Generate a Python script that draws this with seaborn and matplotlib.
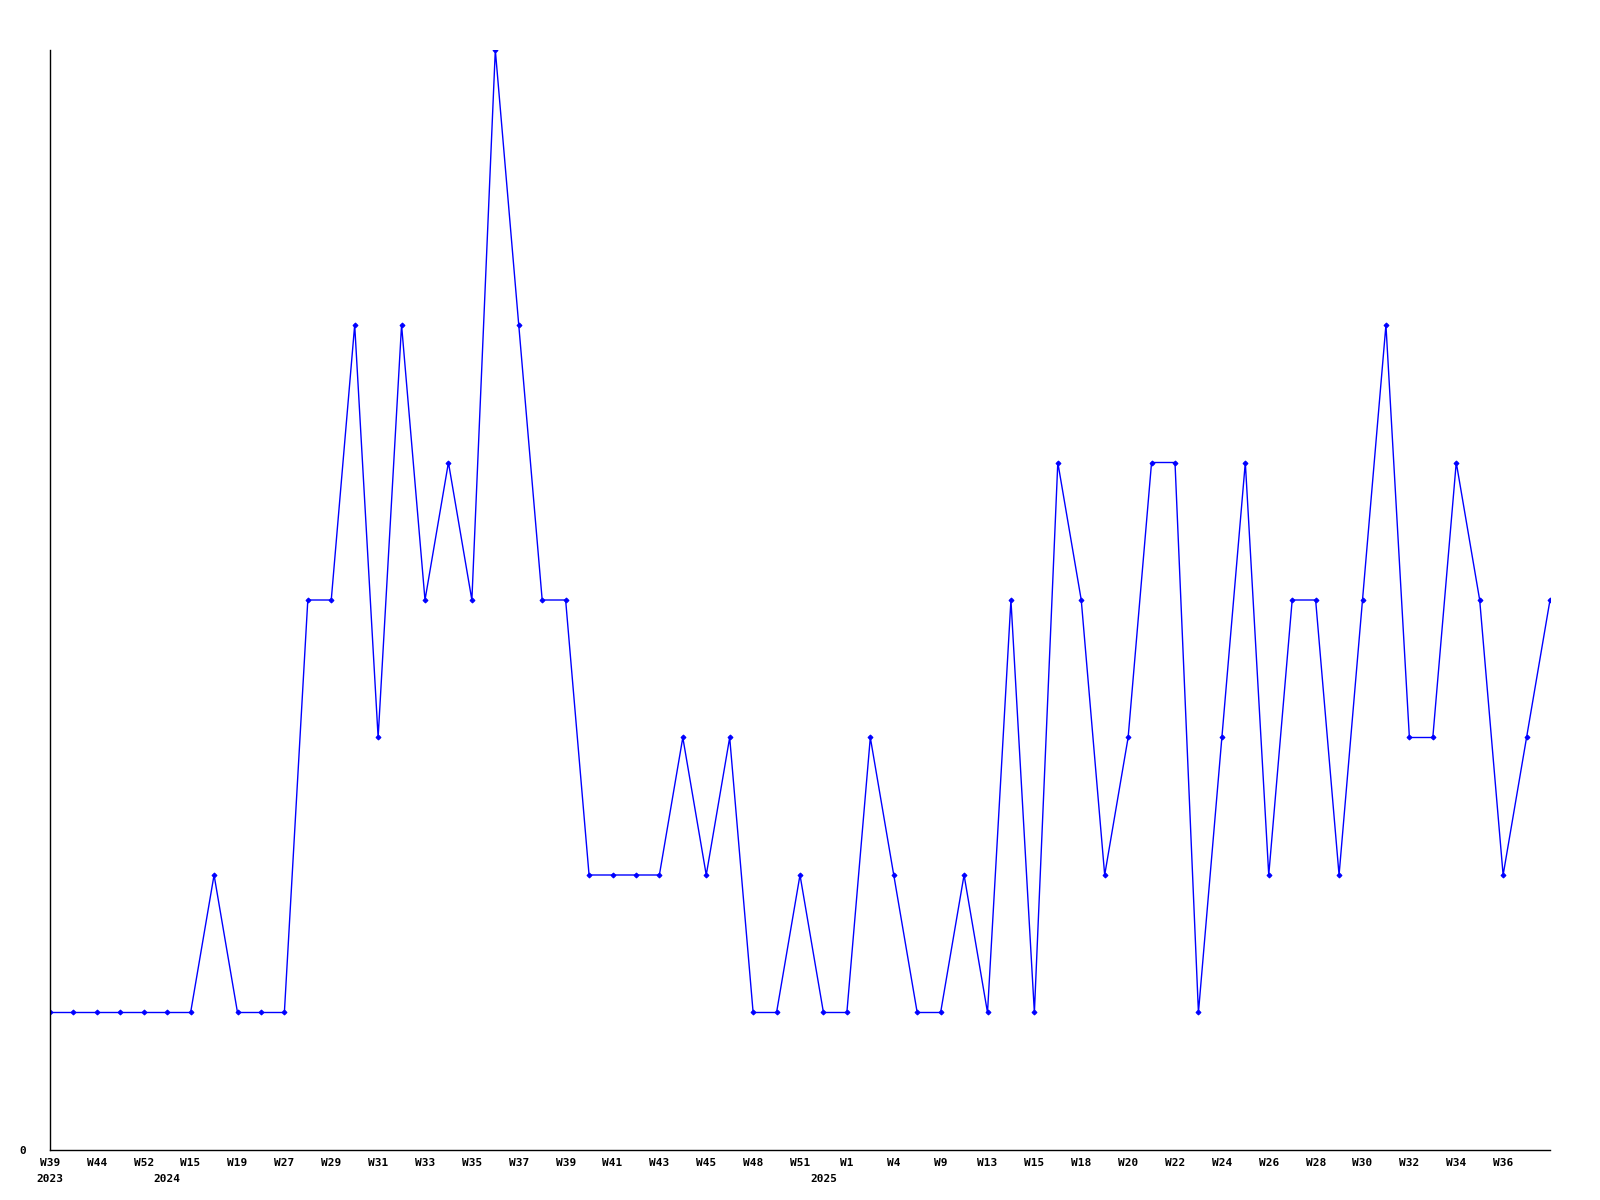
import pandas as pd
import matplotlib.pyplot as plt
import seaborn as sns

# Weekly counts, one point per observed week
values = [1, 1, 1, 1, 1, 1, 1, 2, 1, 1, 1, 4, 4, 6, 3, 6, 4, 5, 4, 8,
          6, 4, 4, 2, 2, 2, 2, 3, 2, 3, 1, 1, 2, 1, 1, 3, 2, 1, 1, 2,
          1, 4, 1, 5, 4, 2, 3, 5, 5, 1, 3, 5, 2, 4, 4, 2, 4, 6, 3, 3,
          5, 4, 2, 3, 4]

# Week labels shown on every second point
week_labels = ["W39", "W44", "W52", "W15", "W19", "W27", "W29", "W31",
               "W33", "W35", "W37", "W39", "W41", "W43", "W45", "W48",
               "W51", "W1", "W4", "W9", "W13", "W15", "W18", "W20",
               "W22", "W24", "W26", "W28", "W30", "W32", "W34", "W36"]

# Year labels and the point where each year starts
years = ["2023", "2024", "2025"]
year_pos = [0, 5, 33]

df = pd.DataFrame({"idx": range(len(values)), "count": values})

sns.set_style("white")
plt.rcParams["font.family"] = ["DejaVu Sans Mono"]

fig = plt.figure(figsize=(16, 12), dpi=100)
ax = fig.add_axes([0.03125, 0.04167, 0.9375, 0.91666])

sns.lineplot(data=df, x="idx", y="count", ax=ax, color="#0000ff",
             linewidth=1, marker="D", markersize=2.5,
             markeredgecolor="#0000ff")

ax.set_xlim(0, len(values) - 1)
ax.set_ylim(0, 8)

ax.set_xticks(range(0, 2 * len(week_labels), 2))
ax.set_xticklabels(week_labels, fontsize=8, fontweight="bold", color="black")
ax.set_yticks([0])
ax.set_yticklabels(["0"], fontsize=8, fontweight="bold", color="black")
ax.tick_params(axis="x", length=0, pad=6)
ax.tick_params(axis="y", length=0, pad=17)

for yr, pos in zip(years, year_pos):
    ax.annotate(yr, xy=(pos, 0), xycoords=("data", "axes fraction"),
                xytext=(0, -17), textcoords="offset points",
                ha="center", va="top", fontsize=8, fontweight="bold",
                color="black")

ax.set_xlabel("")
ax.set_ylabel("")
sns.despine(ax=ax, top=True, right=True)
for s in ["left", "bottom"]:
    ax.spines[s].set_color("black")
    ax.spines[s].set_linewidth(1)

fig.savefig("out.png", dpi=100)
